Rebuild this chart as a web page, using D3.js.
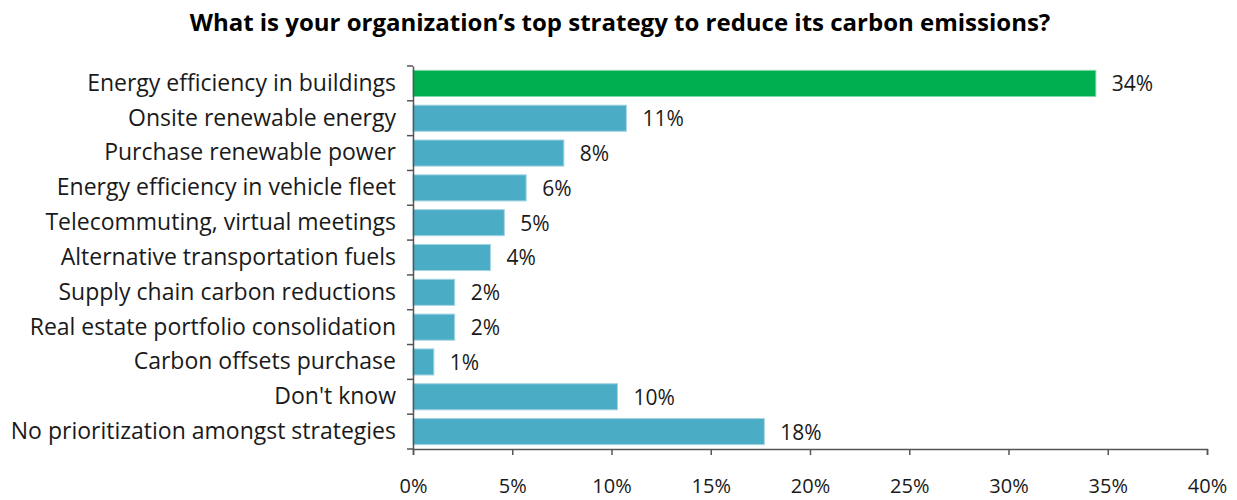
<!DOCTYPE html>
<html>
<head>
<meta charset="utf-8">
<script src="https://cdn.jsdelivr.net/npm/d3@7"></script>
<style>
    body { margin: 0; background: #fff; }
    text { font-family: "Open Sans", sans-serif; fill: #1a1a1a; }
</style>
</head>
<body>
<script>
// Data
let strategies = [
    "Energy efficiency in buildings",
    "Onsite renewable energy",
    "Purchase renewable power",
    "Energy efficiency in vehicle fleet",
    "Telecommuting, virtual meetings",
    "Alternative transportation fuels",
    "Supply chain carbon reductions",
    "Real estate portfolio consolidation",
    "Carbon offsets purchase",
    "Don't know",
    "No prioritization amongst strategies"
];
let shares = [34.4, 10.75, 7.6, 5.7, 4.6, 3.9, 2.1, 2.1, 1.05, 10.3, 17.7];
let ticks = [0, 5, 10, 15, 20, 25, 30, 35, 40];

let data = strategies.map((name, i) => ({ name, value: shares[i] }));

let width = 1237, height = 500;
let margin = { top: 66, right: 30, bottom: 51, left: 413 };
let font = "'Open Sans', sans-serif";

let svg = d3.select("body")
    .append("svg")
    .attr("width", width)
    .attr("height", height);

// Title
svg.append("text")
    .attr("x", 620)
    .attr("y", 31)
    .attr("text-anchor", "middle")
    .style("font-weight", "bold")
    .style("font-size", "24px")
    .style("fill", "#000")
    .text("What is your organization\u2019s top strategy to reduce its carbon emissions?");

let x = d3.scaleLinear([0, 40], [margin.left, 1207]);
let y = d3.scaleBand(strategies, [margin.top, height - margin.bottom])
    .paddingInner(0.25)
    .paddingOuter(0.125);

// Bars
svg.append("g")
    .selectAll("rect")
    .data(data)
    .enter()
    .append("rect")
    .attr("x", x(0))
    .attr("y", d => y(d.name))
    .attr("width", d => x(d.value) - x(0))
    .attr("height", y.bandwidth())
    .attr("fill", (d, i) => i == 0 ? "#00b050" : "#4bacc6")
    .attr("stroke", (d, i) => i == 0 ? "#7fd8a8" : "#a5d5e2")
    .attr("stroke-width", 1);

// Value labels
svg.append("g")
    .selectAll("text")
    .data(data)
    .enter()
    .append("text")
    .attr("x", d => x(d.value) + 16)
    .attr("y", d => y(d.name) + y.bandwidth() / 2)
    .attr("dy", "0.38em")
    .style("font-size", "21px")
    .text(d => Math.round(d.value) + "%");

// X axis
let xAxis = svg.append("g")
    .attr("transform", `translate(0, ${height - margin.bottom})`)
    .call(d3.axisBottom(x).tickValues(ticks).tickFormat(d => d + "%").tickSizeOuter(0).tickSize(6).tickPadding(24));

xAxis.select(".domain").attr("stroke", "#555").attr("stroke-width", 1.5);
xAxis.selectAll(".tick line").attr("stroke", "#555").attr("stroke-width", 1.5);
xAxis.selectAll(".tick text").style("font-size", "20px").style("font-family", font).attr("fill", "#1a1a1a");

// Y axis
let yAxis = svg.append("g")
    .attr("transform", `translate(${margin.left}, 0)`)
    .call(d3.axisLeft(y).tickSize(0).tickPadding(17));

yAxis.select(".domain").attr("stroke", "#555").attr("stroke-width", 1.5);
yAxis.selectAll(".tick text").style("font-size", "23px").style("font-family", font).attr("fill", "#1a1a1a");

// Category boundary ticks
let step = y.step();
svg.append("g")
    .selectAll("line")
    .data(d3.range(strategies.length + 1))
    .enter()
    .append("line")
    .attr("x1", margin.left - 6)
    .attr("x2", margin.left)
    .attr("y1", i => margin.top + i * step)
    .attr("y2", i => margin.top + i * step)
    .attr("stroke", "#555")
    .attr("stroke-width", 1.5);
</script>
</body>
</html>
